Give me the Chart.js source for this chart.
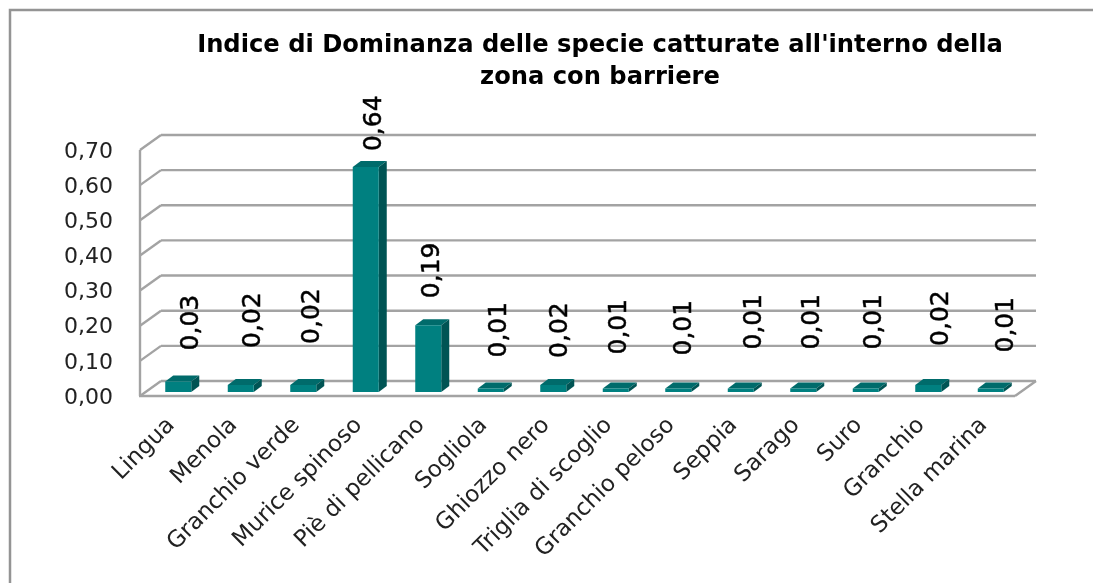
<!DOCTYPE html>
<html>
<head>
<meta charset="utf-8">
<script src="https://cdn.jsdelivr.net/npm/chart.js@4"></script>
<style>
html, body { margin: 0; background: #fff; }
#wrap { width: 1093px; height: 583px; position: relative; }
</style>
</head>
<body>
<div id="wrap"><canvas id="chart"></canvas></div>
<script>
var titleLines = ["Indice di Dominanza delle specie catturate all'interno della", "zona con barriere"];
var categories = ["Lingua", "Menola", "Granchio verde", "Murice spinoso", "Piè di pellicano", "Sogliola", "Ghiozzo nero",
    "Triglia di scoglio", "Granchio peloso", "Seppia", "Sarago", "Suro", "Granchio", "Stella marina"];
var values = [0.03, 0.02, 0.02, 0.64, 0.19, 0.01, 0.02, 0.01, 0.01, 0.01, 0.01, 0.01, 0.02, 0.01];
// how far each value label sits from its bar, the source chart nudges them by hand
var labelRise = [31, 37, 41, 16, 27, 31, 27, 34, 33, 39, 39, 39, 39, 36];
var labelShift = [13, 13, 9, 9, 4, 9, 7, 4, 6, 14, 9, 9, 13, 16];

var DEPTH_X = 21, DEPTH_Y = 15;       // floor depth of the fake 3d box
var BAR_X = 7, BAR_Y = -4;            // bars stand a little inside the box
var SIDE_X = 8, SIDE_Y = 6;           // depth of one bar
var GRID = '#a3a3a3';

function comma(v) {
    return v.toFixed(2).replace('.', ',');
}

function line(ctx, x1, y1, x2, y2) {
    ctx.beginPath();
    ctx.moveTo(x1, y1);
    ctx.lineTo(x2, y2);
    ctx.stroke();
}

var boxPlugin = {
    id: 'box',
    afterLayout: function (chart) {
        // title is centred further right than the canvas, like the source
        chart.titleBlock.left = 107;
        chart.titleBlock.right = 1093;
    },
    beforeDraw: function (chart) {
        var ctx = chart.ctx;
        ctx.save();
        ctx.strokeStyle = '#949494';
        ctx.lineWidth = 2.5;
        ctx.beginPath();
        ctx.moveTo(10, 583);
        ctx.lineTo(10, 10);
        ctx.lineTo(1093, 10);
        ctx.stroke();
        ctx.restore();
    },
    beforeDatasetsDraw: function (chart) {
        var ctx = chart.ctx, a = chart.chartArea, y = chart.scales.y;
        ctx.save();
        ctx.strokeStyle = GRID;
        ctx.lineWidth = 2.4;
        y.ticks.forEach(function (t, i) {
            var py = y.getPixelForTick(i);
            line(ctx, a.left, py, a.left + DEPTH_X, py - DEPTH_Y);
            line(ctx, a.left + DEPTH_X, py - DEPTH_Y, a.right + DEPTH_X, py - DEPTH_Y);
        });
        line(ctx, a.left, a.top, a.left, a.bottom);
        line(ctx, a.left - 1, a.bottom, a.right, a.bottom);
        line(ctx, a.right, a.bottom, a.right + DEPTH_X, a.bottom - DEPTH_Y);
        ctx.restore();
    },
    beforeDatasetDraw: function (chart) {
        var ctx = chart.ctx;
        ctx.save();
        ctx.translate(BAR_X, BAR_Y);
        chart.getDatasetMeta(0).data.forEach(function (bar) {
            var l = bar.x - bar.width / 2, r = bar.x + bar.width / 2;
            ctx.fillStyle = '#006b6b';
            ctx.beginPath();
            ctx.moveTo(l, bar.y);
            ctx.lineTo(l + SIDE_X, bar.y - SIDE_Y);
            ctx.lineTo(r + SIDE_X, bar.y - SIDE_Y);
            ctx.lineTo(r, bar.y);
            ctx.fill();
            ctx.fillStyle = '#005454';
            ctx.beginPath();
            ctx.moveTo(r, bar.y);
            ctx.lineTo(r + SIDE_X, bar.y - SIDE_Y);
            ctx.lineTo(r + SIDE_X, bar.base - SIDE_Y);
            ctx.lineTo(r, bar.base);
            ctx.fill();
        });
    },
    afterDatasetDraw: function (chart) {
        chart.ctx.restore();
    },
    afterDatasetsDraw: function (chart) {
        var ctx = chart.ctx;
        ctx.save();
        ctx.fillStyle = '#000';
        ctx.strokeStyle = '#000';
        ctx.lineWidth = 0.5;
        ctx.font = '25px "DejaVu Sans"';
        ctx.textAlign = 'left';
        ctx.textBaseline = 'middle';
        chart.getDatasetMeta(0).data.forEach(function (bar, i) {
            ctx.save();
            ctx.translate(bar.x + BAR_X + labelShift[i], bar.y + BAR_Y - labelRise[i]);
            ctx.rotate(-Math.PI / 2);
            ctx.fillText(comma(values[i]), 0, 0);
            ctx.strokeText(comma(values[i]), 0, 0);
            ctx.restore();
        });
        ctx.restore();
    }
};

new Chart(document.getElementById('chart'), {
    type: 'bar',
    data: {
        labels: categories,
        datasets: [{
            data: values,
            backgroundColor: '#008080',
            categoryPercentage: 1,
            barPercentage: 0.416
        }]
    },
    plugins: [boxPlugin],
    options: {
        responsive: true,
        maintainAspectRatio: false,
        animation: false,
        layout: { padding: { left: 0, right: 78, top: 0, bottom: 0 } },
        plugins: {
            legend: { display: false },
            tooltip: { enabled: false },
            title: {
                display: true,
                text: titleLines,
                color: '#000',
                font: { family: '"DejaVu Sans"', size: 24.2, weight: 'bold', lineHeight: 1.322 },
                padding: { top: 30, bottom: 56 }
            }
        },
        scales: {
            x: {
                grid: { display: false },
                border: { display: false },
                afterFit: function (s) { s.height = 187; },
                ticks: {
                    color: '#222',
                    font: { family: '"DejaVu Sans"', size: 23 },
                    minRotation: 45,
                    maxRotation: 45,
                    autoSkip: false,
                    padding: 8
                }
            },
            y: {
                min: 0,
                max: 0.7,
                grid: { display: false },
                border: { display: false },
                afterFit: function (s) { s.width = 140; },
                ticks: {
                    stepSize: 0.1,
                    color: '#222',
                    font: { family: '"DejaVu Sans"', size: 22 },
                    padding: 19,
                    labelOffset: 2,
                    callback: function (v) { return comma(v); }
                }
            }
        }
    }
});
</script>
</body>
</html>
